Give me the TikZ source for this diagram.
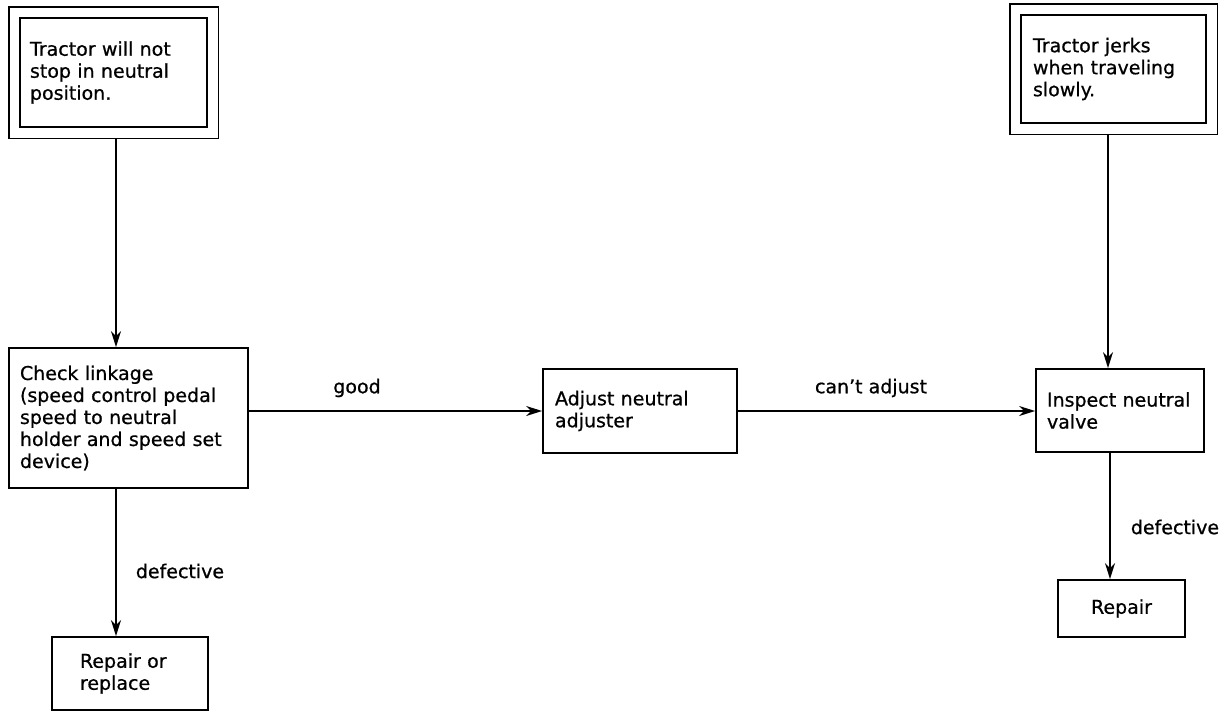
\documentclass[tikz,border=0pt]{standalone}
\usepackage{fontspec}
\setmainfont{DejaVu Sans}[FakeBold=0.7]
\usetikzlibrary{arrows.meta,fit,calc}
\begin{document}
\begin{tikzpicture}[x=1pt,y=-1pt,
  txt/.style={font=\fontsize{19}{22}\selectfont},
  box/.style={txt, draw, line width=1.8pt, rectangle, inner ysep=0pt, align=left},
  outerbox/.style={draw, line width=1.8pt, rectangle, inner sep=10.5pt},
  lbl/.style={txt, inner sep=0pt},
  arr/.style={line width=1.8pt, -{Stealth[length=16pt,width=10pt]}}]
\useasboundingbox (0,0) rectangle (1229,713);

% top boxes
\node[box, text width=167pt, inner xsep=10pt, minimum height=109pt] (A) at (113.5,72.5)
  {Tractor will not\\stop in neutral\\position.};
\node[outerbox, fit=(A)] (Ao) {};
\node[box, text width=161pt, inner xsep=12pt, minimum height=108pt] (B) at (1113.5,69)
  {Tractor jerks\\when traveling\\slowly.};
\node[outerbox, fit=(B)] (Bo) {};

% middle row
\node[box, text width=217pt, inner xsep=11pt, minimum height=140pt] (C) at (128.5,418)
  {Check linkage\\(speed control pedal\\speed to neutral\\holder and speed set\\device)};
\node[box, text width=170pt, inner xsep=12pt, minimum height=84pt] (D) at (640,411)
  {Adjust neutral\\adjuster};
\node[box, text width=146pt, inner xsep=11pt, minimum height=83pt] (E) at (1120,410.5)
  {Inspect neutral\\valve};

% bottom row
\node[box, text width=100pt, inner xsep=28pt, minimum height=73pt] (G) at (130,673.5)
  {Repair or\\replace};
\node[box, align=center, minimum width=127pt, minimum height=57pt, inner xsep=0pt] (F) at (1121.5,608.5)
  {Repair};

% helper coordinates
\coordinate (xA) at (116,0);
\coordinate (xB) at (1108,0);
\coordinate (xE) at (1110,0);
\coordinate (yM) at (0,411);

% connectors
\draw[arr] (Ao.south -| xA) -- (C.north -| xA);
\draw[arr] (C.east |- yM) -- (D.west |- yM);
\draw[arr] (D.east |- yM) -- (E.west |- yM);
\draw[arr] (Bo.south -| xB) -- (E.north -| xB);
\draw[arr] (E.south -| xE) -- (F.north -| xE);
\draw[arr] (C.south -| xA) -- (G.north -| xA);

% labels
\node[lbl] (lgood) at (357,388) {good};
\node[lbl] (lcant) at (871,388) {can’t adjust};
\node[lbl] (ldef1) at (180,571) {defective};
\node[lbl] (ldef2) at (1175,527) {defective};
\end{tikzpicture}
\end{document}
